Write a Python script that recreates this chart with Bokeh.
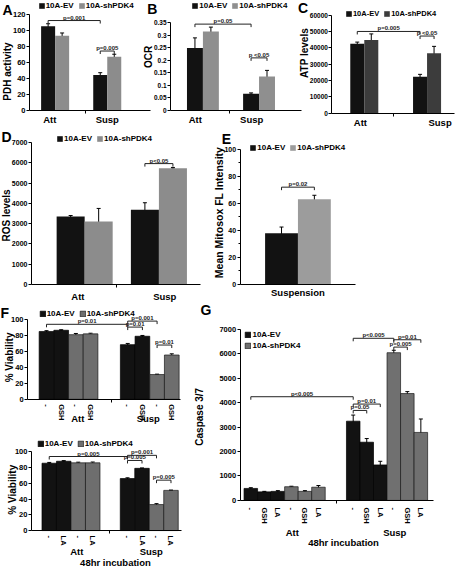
import math
from bokeh.plotting import figure
from bokeh.models import (Range1d, FixedTicker, LinearAxis, Legend, LegendItem, Label,
                          LabelSet, ColumnDataSource, Whisker, TeeHead)
from bokeh.embed import file_html
from bokeh.resources import INLINE
from bokeh.core.properties import value

FONT = "Liberation Sans"
EV_COLOR = "#121212"
SERIES_NAMES = ["10A-EV", "10A-shPDK4"]

# ---------------- data ----------------
A_groups = ["Att", "Susp"]
A_ev = [105, 44]
A_ev_err = [3, 3]
A_sh = [93, 67]
A_sh_err = [3.5, 3]
A_yticks = [0, 20, 40, 60, 80, 100, 120]
A_pvals = [((0, 0), (1, 0), 112, "p=0.001"), ((1, 0), (1, 1), 74, "p=0.005")]

B_groups = ["Att", "Susp"]
B_ev = [0.25, 0.067]
B_ev_err = [0.04, 0.003]
B_sh = [0.315, 0.136]
B_sh_err = [0.018, 0.024]
B_yticks = [0, 0.05, 0.1, 0.15, 0.2, 0.25, 0.3, 0.35]
B_yticklabels = ["0", "0.05", "0.1", "0.15", "0.2", "0.25", "0.3", "0.35"]
B_pvals = [((0, 0), (1, 0), 0.345, "p=0.05"), ((1, 0), (1, 1), 0.21, "p <0.05")]

C_groups = ["Att", "Susp"]
C_ev = [42500, 22300]
C_ev_err = [1000, 1500]
C_sh = [44800, 36700]
C_sh_err = [3700, 4200]
C_yticks = [0, 10000, 20000, 30000, 40000, 50000, 60000]
C_pvals = [((0, 0), (1, 0), 50000, "p=0.005"), ((1, 0), (1, 1), 47200, "p <0.05")]

D_groups = ["Att", "Susp"]
D_ev = [3350, 3680]
D_ev_err = [50, 350]
D_sh = [3100, 5730]
D_sh_err = [650, 40]
D_yticks = [0, 1000, 2000, 3000, 4000, 5000, 6000, 7000]
D_pvals = [((1, 0), (1, 1), 5960, "p<0.05")]

E_groups = ["Suspension"]
E_ev = [38]
E_ev_err = [4.5]
E_sh = [63]
E_sh_err = [3]
E_yticks = [0, 20, 40, 60, 80, 100]
E_yminor = [10, 30, 50, 70, 90]
E_pvals = [((0, 0), (0, 1), 72, "p=0.02")]

F1_groups = ["Att", "Susp"]
F1_inner = ["-", "GSH", "-", "GSH"]
F1_ev = [85, 86.5, 68.5, 79]
F1_ev_err = [1, 0.7, 1.5, 1]
F1_sh = [81, 82, 31, 55.5]
F1_sh_err = [1.5, 0.8, 0.5, 1.5]
F_yticks = [0, 20, 40, 60, 80, 100]
F1_pvals = [((0, 0), (1, 0), 94, "p=0.01"), ((1, 0), (1, 2), 98, "p=0.001"),
            ((1, 0), (1, 1), 90.5, "p=0.01"), ((1, 2), (1, 3), 68, "p=0.01")]

F2_groups = ["Att", "Susp"]
F2_inner = ["-", "LA", "-", "LA"]
F2_ev = [85.5, 88, 66, 79]
F2_ev_err = [1, 0.8, 1, 0.5]
F2_sh = [86, 86, 33, 51]
F2_sh_err = [0.8, 1, 1.2, 0.4]
F2_pvals = [((0, 0), (1, 0), 94, "p=0.005"), ((1, 0), (1, 2), 95.5, "p=0.001"),
            ((1, 0), (1, 1), 89, "p=0.005"), ((1, 2), (1, 3), 64, "p=0.005")]

G_groups = ["Att", "Susp"]
G_inner = ["-", "GSH", "LA", "-", "GSH", "LA"]
G_ev = [490, 350, 370, 3240, 2380, 1450]
G_ev_err = [30, 20, 30, 250, 150, 150]
G_sh = [560, 370, 540, 6040, 4370, 2780]
G_sh_err = [20, 30, 70, 100, 80, 550]
G_yticks = [0, 1000, 2000, 3000, 4000, 5000, 6000, 7000]
G_pvals = [((0, 0), (1, 0), 4240, "p<0.005"), ((1, 0), (1, 1), 3680, "p=0.05"),
           ((1, 0), (1, 2), 3940, "p=0.01"), ((1, 0), (1, 3), 6630, "p<0.005"),
           ((1, 3), (1, 5), 6570, "p=0.01"), ((1, 3), (1, 4), 6270, "p=0.005")]

# ---------------- canvas ----------------
W, H = 458, 568
SX, SY = W / 474, H / 584

p = figure(width=W, height=H, output_backend="svg", toolbar_location=None,
           x_range=Range1d(0, 1), y_range=Range1d(0, 1),
           x_axis_type=None, y_axis_type=None, min_border=0)
p.outline_line_color = None
p.background_fill_color = "white"
p.border_fill_color = "white"


def style_axis(ax, tick_font="7.5px"):
    ax.axis_line_color = "black"
    ax.axis_line_width = 1
    ax.major_tick_line_color = "black"
    ax.major_tick_out = 3
    ax.major_tick_in = 0
    ax.minor_tick_line_color = "black"
    ax.minor_tick_out = 2
    ax.minor_tick_in = 0
    ax.major_label_text_font = FONT
    ax.major_label_text_font_size = tick_font
    ax.major_label_text_font_style = "bold"
    ax.major_label_text_color = "black"
    ax.major_label_standoff = 1


def screen_text(text, cx, cy, size="10px", angle=0.0):
    """Free text centred at reference-pixel position (cx, cy)."""
    p.add_layout(Label(x=cx * SX, y=H - cy * SY, x_units="screen", y_units="screen",
                       text=text, angle=angle, text_font=FONT, text_font_size=size,
                       text_font_style="bold", text_align="center", text_baseline="middle",
                       text_color="black"))


def panel(name, L, D):
    x0 = L["x0"] * SX
    u = L["unit"] * SX
    yb = L["ybot"] * SY
    yt = L["ytop"] * SY
    yticks = D["yticks"]
    ymax = yticks[-1]
    k = ymax / (yb - yt)  # value per pixel
    p.extra_x_ranges[name] = Range1d(-x0 / u, (W - x0) / u)
    p.extra_y_ranges[name] = Range1d((yb - H) * k, yb * k)
    rn = dict(x_range_name=name, y_range_name=name)
    starts = L["starts"]
    nslot = L["nslot"]
    xend = L["xlen"] / L["unit"]
    groups = D["groups"]

    def xpos(g, kk):
        return round(starts[g] + kk + 0.5, 4)

    # ---- y axis
    yax = LinearAxis(ticker=FixedTicker(ticks=yticks, minor_ticks=D.get("yminor", [])),
                     fixed_location=0, bounds=(0, ymax), **rn)
    style_axis(yax, L.get("ytick_font", "7.5px"))
    yax.major_label_overrides = dict(zip(yticks, D.get("yticklabels", [str(v) for v in yticks])))
    p.add_layout(yax, "left")
    ycx, ycy = L["ylabel_pos"]
    screen_text(D["ylabel"], ycx, ycy, L.get("ylabel_font", "10px"), math.pi / 2)

    # ---- x axes
    gl = [round(v, 4) for v in L["glabel_x"]]
    if D.get("inner") is None:
        xax = LinearAxis(ticker=FixedTicker(ticks=gl, minor_ticks=L["seps"]),
                         fixed_location=0, bounds=(0, xend), **rn)
        style_axis(xax, "9.5px")
        xax.major_tick_line_color = None
        xax.major_tick_out = 0
        xax.minor_tick_out = 3
        xax.major_label_standoff = L.get("group_standoff", 1)
        xax.major_label_overrides = dict(zip(gl, groups))
        p.add_layout(xax, "below")
    else:
        inner = D["inner"]
        bticks = [xpos(g, kk) for g in range(len(groups)) for kk in range(nslot)]
        xax = LinearAxis(ticker=FixedTicker(ticks=bticks, minor_ticks=L["seps"]),
                         fixed_location=0, bounds=(0, xend), **rn)
        style_axis(xax, "7.5px")
        xax.major_tick_line_color = None
        xax.major_tick_out = 0
        xax.minor_tick_out = 3
        xax.major_label_standoff = L.get("inner_standoff", 2)
        xax.major_label_orientation = -math.pi / 2
        xax.major_label_overrides = dict(zip(bticks, inner * len(groups)))
        p.add_layout(xax, "below")
        xax2 = LinearAxis(ticker=FixedTicker(ticks=gl), fixed_location=0,
                          bounds=(0, xend), **rn)
        style_axis(xax2, "9.5px")
        xax2.axis_line_color = None
        xax2.major_tick_line_color = None
        xax2.minor_tick_line_color = None
        xax2.major_tick_out = 0
        xax2.minor_tick_out = 0
        xax2.major_label_standoff = L["group_standoff"]
        xax2.major_label_overrides = dict(zip(gl, groups))
        p.add_layout(xax2, "below")
    if D.get("xlabel"):
        xcx, xcy = L["xlabel_pos"]
        screen_text(D["xlabel"], xcx, xcy, "9.5px")

    # ---- bars + error bars
    renderers = []
    for s in D["series"]:
        xs = [xpos(g, kk) for (g, kk) in s["slots"]]
        src = ColumnDataSource(dict(x=xs, top=s["values"]))
        rr = p.vbar(x="x", top="top", width=1.0, bottom=0, source=src,
                    fill_color=s["color"], line_color=s.get("line"), line_width=0.7, **rn)
        renderers.append(rr)
        wsrc = ColumnDataSource(dict(x=xs,
                                     upper=[v + e for v, e in zip(s["values"], s["errs"])],
                                     lower=[v - e for v, e in zip(s["values"], s["errs"])]))
        p.add_layout(Whisker(source=wsrc, base="x", upper="upper", lower="lower",
                             line_color="black", line_width=1,
                             upper_head=TeeHead(size=4, line_color="black", line_width=1),
                             lower_head=TeeHead(size=4, line_color="black", line_width=1), **rn))

    # ---- significance brackets
    d = 3 * k
    bxs, bys, tx, ty, tt = [], [], [], [], []
    for (a, bb, yv, txt) in D["pvals"]:
        x1 = xpos(*a)
        x2 = xpos(*bb)
        bxs.append([x1, x1, x2, x2])
        bys.append([yv - d, yv, yv, yv - d])
        tx.append((x1 + x2) / 2)
        ty.append(yv)
        tt.append(txt)
    p.multi_line(xs=bxs, ys=bys, line_color="#222222", line_width=1, **rn)
    p.add_layout(LabelSet(x="x", y="y", text="text",
                          source=ColumnDataSource(dict(x=tx, y=ty, text=tt)),
                          text_align="center", text_baseline="bottom", y_offset=0,
                          text_font=value(FONT), text_font_size=value("6px"),
                          text_font_style="bold", text_color="#222222", **rn))

    # ---- legend
    lx, lyc = L["legend"]
    orient = L.get("legend_orient", "horizontal")
    lh = 9 if orient == "horizontal" else 20
    items = [LegendItem(label=n, renderers=[rr]) for n, rr in zip(SERIES_NAMES, renderers)]
    leg = Legend(items=items, location=(lx * SX, H - (lyc * SY + lh / 2)),
                 orientation=orient,
                 glyph_width=7, glyph_height=7, label_height=8, label_width=10,
                 padding=0, margin=0, spacing=L.get("legend_spacing", 4), label_standoff=1,
                 border_line_color=None, background_fill_alpha=0,
                 label_text_font=FONT, label_text_font_size=L.get("legend_font", "8px"),
                 label_text_font_style="bold", label_text_color="black")
    p.add_layout(leg)

    # ---- panel letter
    if L.get("letter"):
        ltx, lty = L["letter_pos"]
        p.add_layout(Label(x=ltx * SX, y=H - (lty * SY - 2.5), x_units="screen", y_units="screen",
                           text=L["letter"], text_font=FONT, text_font_size="14px",
                           text_font_style="bold", text_baseline="top", text_align="left",
                           text_color="black"))


def two_series(ev, ev_err, sh, sh_err, sh_color, ngroups):
    return [
        dict(values=ev, errs=ev_err, color=EV_COLOR, slots=[(g, 0) for g in range(ngroups)]),
        dict(values=sh, errs=sh_err, color=sh_color, slots=[(g, 1) for g in range(ngroups)]),
    ]


def multi_series(ev, ev_err, sh, sh_err, n_per, sh_color):
    return [
        dict(values=ev, errs=ev_err, color=EV_COLOR, line="#000000",
             slots=[(g, kk) for g in range(2) for kk in range(n_per)]),
        dict(values=sh, errs=sh_err, color=sh_color, line="#1a1a1a",
             slots=[(g, kk + n_per) for g in range(2) for kk in range(n_per)]),
    ]


panel("A",
      dict(x0=30, unit=14.5, xlen=125, starts=[0.83, 4.55], nslot=2, seps=[4.0],
           glabel_x=[1.45, 5.55], group_standoff=1,
           ybot=113, ytop=14, ylabel_pos=(7.5, 73), legend=(39, 5.5), letter="A", letter_pos=(2, 4)),
      dict(groups=A_groups, yticks=A_yticks, ylabel="PDH activity", pvals=A_pvals,
           series=two_series(A_ev, A_ev_err, A_sh, A_sh_err, "#8c8c8c", 2)))

panel("B",
      dict(x0=176, unit=16.5, xlen=136, starts=[1.03, 4.55], nslot=2, seps=[3.7],
           glabel_x=[1.55, 5.09], group_standoff=1,
           ybot=113, ytop=23, ytick_font="6.5px", ylabel_pos=(153, 58),
           legend=(198, 6), letter="B", letter_pos=(152, 3)),
      dict(groups=B_groups, yticks=B_yticks, yticklabels=B_yticklabels, ylabel="OCR",
           pvals=B_pvals, series=two_series(B_ev, B_ev_err, B_sh, B_sh_err, "#8f8f8f", 2)))

panel("C",
      dict(x0=343, unit=14.5, xlen=127, starts=[1.31, 5.79], nslot=2, seps=[4.41],
           glabel_x=[2.03, 7.72], group_standoff=1,
           ybot=116, ytop=15, ytick_font="6.5px", ylabel_pos=(314.5, 54),
           legend=(357, 13.5), legend_font="7.5px", letter="C", letter_pos=(308, 2)),
      dict(groups=C_groups, yticks=C_yticks, ylabel="ATP levels", pvals=C_pvals,
           series=two_series(C_ev, C_ev_err, C_sh, C_sh_err, "#3c3c3c", 2)))

panel("D",
      dict(x0=32, unit=29, xlen=175, starts=[0.9, 3.55], nslot=2, seps=[3.03],
           glabel_x=[1.66, 4.76], group_standoff=3, ytick_font="7px",
           ybot=292, ytop=146, ylabel_pos=(6.5, 221), legend=(58, 142),
           letter="D", letter_pos=(1, 135)),
      dict(groups=D_groups, yticks=D_yticks, ylabel="ROS levels", pvals=D_pvals,
           series=two_series(D_ev, D_ev_err, D_sh, D_sh_err, "#8c8c8c", 2)))

panel("E",
      dict(x0=248, unit=34, xlen=119, starts=[0.76], nslot=2, seps=[],
           glabel_x=[1.76], group_standoff=2, ytick_font="7px",
           ybot=292, ytop=153, ylabel_pos=(226, 218), ylabel_font="10.5px",
           legend=(258, 152), letter="E", letter_pos=(229, 137)),
      dict(groups=E_groups, yticks=E_yticks, yminor=E_yminor, ylabel="Mean Mitosox FL Intensity",
           pvals=E_pvals, series=two_series(E_ev, E_ev_err, E_sh, E_sh_err, "#9c9c9c", 1)))

panel("F1",
      dict(x0=28, unit=15.2, xlen=158, starts=[0.79, 6.32], nslot=4, seps=[5.72],
           glabel_x=[3.42, 8.22], inner_standoff=2, group_standoff=14,
           ybot=410, ytop=328, ylabel_pos=(8.8, 367),
           legend=(40, 322), letter="F", letter_pos=(0, 316)),
      dict(groups=F1_groups, inner=F1_inner, yticks=F_yticks, ylabel="% Viability",
           pvals=F1_pvals, series=multi_series(F1_ev, F1_ev_err, F1_sh, F1_sh_err, 2, "#6e6e6e")))

panel("F2",
      dict(x0=32, unit=15, xlen=155, starts=[0.73, 6.13], nslot=4, seps=[5.4],
           glabel_x=[3.13, 8.27], inner_standoff=2, group_standoff=15,
           ybot=545, ytop=464, ylabel_pos=(12.5, 503), xlabel_pos=(119, 578),
           legend=(38, 456)),
      dict(groups=F2_groups, inner=F2_inner, yticks=F_yticks, ylabel="% Viability",
           xlabel="48hr incubation",
           pvals=F2_pvals, series=multi_series(F2_ev, F2_ev_err, F2_sh, F2_sh_err, 2, "#6e6e6e")))

panel("G",
      dict(x0=248, unit=14, xlen=200, starts=[0.29, 7.86], nslot=6, seps=[7.14],
           glabel_x=[3.86, 11.43], inner_standoff=4, group_standoff=27,
           ybot=514, ytop=338, ylabel_pos=(206, 428), xlabel_pos=(355, 557),
           legend=(253, 349.5), legend_orient="vertical", legend_spacing=2,
           letter="G", letter_pos=(207, 313)),
      dict(groups=G_groups, inner=G_inner, yticks=G_yticks, ylabel="Caspase 3/7",
           xlabel="48hr incubation",
           pvals=G_pvals, series=multi_series(G_ev, G_ev_err, G_sh, G_sh_err, 3, "#707070")))

open("out.html", "w").write(file_html(p, INLINE))
